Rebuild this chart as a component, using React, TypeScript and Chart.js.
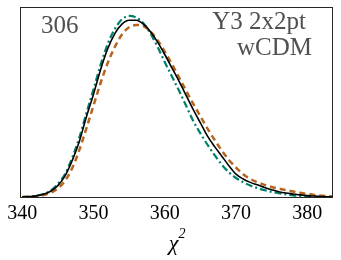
import React, { useEffect, useRef } from "react";
import { Chart, registerables } from "chart.js";

Chart.register(...registerables);

const chi2Grid = [340, 341, 342, 343, 344, 345, 346, 347, 348, 349, 350, 351, 352, 353, 354, 355, 356, 357, 358, 359, 360, 361, 362, 363, 364, 365, 366, 367, 368, 369, 370, 371, 372, 373, 374, 375, 376, 377, 378, 379, 380, 381, 382, 383, 384];

const blackSeries = [0, 0.002, 0.006, 0.014, 0.03, 0.06, 0.11, 0.19, 0.29, 0.42, 0.54, 0.67, 0.78, 0.86, 0.91, 0.93, 0.93, 0.91, 0.87, 0.815, 0.75, 0.68, 0.61, 0.535, 0.46, 0.39, 0.32, 0.265, 0.215, 0.165, 0.12, 0.095, 0.077, 0.064, 0.05, 0.038, 0.028, 0.021, 0.016, 0.011, 0.007, 0.005, 0.003, 0.001, 0];

const tealSeries = [0, 0.002, 0.007, 0.016, 0.034, 0.068, 0.12, 0.205, 0.31, 0.44, 0.565, 0.695, 0.805, 0.885, 0.935, 0.953, 0.945, 0.915, 0.86, 0.79, 0.71, 0.635, 0.56, 0.48, 0.4, 0.335, 0.275, 0.22, 0.17, 0.13, 0.1, 0.078, 0.06, 0.047, 0.036, 0.027, 0.02, 0.014, 0.009, 0.006, 0.003, 0.002, 0.001, 0, 0];

const orangeSeries = [0, 0.001, 0.004, 0.01, 0.022, 0.045, 0.085, 0.15, 0.245, 0.36, 0.48, 0.6, 0.705, 0.79, 0.855, 0.893, 0.905, 0.9, 0.87, 0.825, 0.765, 0.7, 0.63, 0.56, 0.49, 0.425, 0.36, 0.3, 0.245, 0.195, 0.155, 0.12, 0.095, 0.078, 0.064, 0.053, 0.044, 0.036, 0.029, 0.022, 0.016, 0.011, 0.007, 0.004, 0.002];

const xTicks = [340, 350, 360, 370, 380];
const countLabel = "306";
const infoLines = ["Y3 2x2pt", "wCDM"];
const xTitle = "χ";
const xTitleSup = "2";

const SERIF = "'Liberation Serif', 'DejaVu Serif', serif";

const framePlugin = {
  id: "frameAndText",
  afterDraw(chart: any) {
    const { ctx, chartArea } = chart;
    ctx.save();
    ctx.strokeStyle = "#262626";
    ctx.lineWidth = 1;
    ctx.strokeRect(
      Math.round(chartArea.left) + 0.5,
      Math.round(chartArea.top) + 0.5,
      Math.round(chartArea.right - chartArea.left) - 1,
      Math.round(chartArea.bottom - chartArea.top)
    );
    ctx.fillStyle = "#505050";
    ctx.font = `25px ${SERIF}`;
    ctx.textBaseline = "alphabetic";
    ctx.textAlign = "left";
    ctx.fillText(countLabel, 41, 33);
    ctx.textAlign = "right";
    ctx.fillText(infoLines[0], 306, 29);
    ctx.fillText(infoLines[1], 312, 55);
    // axis title
    const cx = (chartArea.left + chartArea.right) / 2;
    ctx.fillStyle = "#000";
    ctx.font = `italic 22px ${SERIF}`;
    ctx.textAlign = "right";
    ctx.fillText(xTitle, cx + 2, 250);
    ctx.font = `italic 14px ${SERIF}`;
    ctx.textAlign = "left";
    ctx.fillText(xTitleSup, cx + 2, 238);
    ctx.restore();
  },
};

export default function App() {
  const ref = useRef<HTMLCanvasElement | null>(null);
  useEffect(() => {
    document.body.style.margin = "0";
    const mk = (vals: number[]) => chi2Grid.map((x, i) => ({ x, y: vals[i] }));
    const chart = new Chart(ref.current!, {
      type: "line",
      data: {
        datasets: [
          {
            data: mk(blackSeries),
            borderColor: "#000000",
            borderWidth: 1.6,
            pointRadius: 0,
            cubicInterpolationMode: "monotone",
            order: 0,
          },
          {
            data: mk(orangeSeries),
            borderColor: "#b5651d",
            borderWidth: 2.5,
            borderDash: [6, 4],
            pointRadius: 0,
            cubicInterpolationMode: "monotone",
            order: 1,
          },
          {
            data: mk(tealSeries),
            borderColor: "#00806b",
            borderWidth: 2.2,
            borderDash: [7, 3, 2, 3],
            pointRadius: 0,
            cubicInterpolationMode: "monotone",
            order: 2,
          },
        ],
      },
      options: {
        animation: false,
        responsive: false,
        maintainAspectRatio: false,
        layout: { padding: { left: 20, right: 8, top: 7, bottom: 33 } },
        plugins: { legend: { display: false }, tooltip: { enabled: false } },
        scales: {
          x: {
            type: "linear",
            min: 339.7,
            max: 383.6,
            afterBuildTicks: (axis: any) => {
              axis.ticks = xTicks.map((v) => ({ value: v }));
            },
            grid: { display: false, drawTicks: true, tickLength: 4, tickColor: "#262626" },
            border: { display: false },
            ticks: {
              color: "#000",
              font: { family: SERIF, size: 20 },
              padding: 1,
              maxRotation: 0,
            },
          },
          y: {
            display: false,
            min: 0,
            max: 1,
          },
        },
      },
      plugins: [framePlugin],
    });
    return () => chart.destroy();
  }, []);
  return <canvas ref={ref} width={341} height={260} style={{ display: "block" }} />;
}
